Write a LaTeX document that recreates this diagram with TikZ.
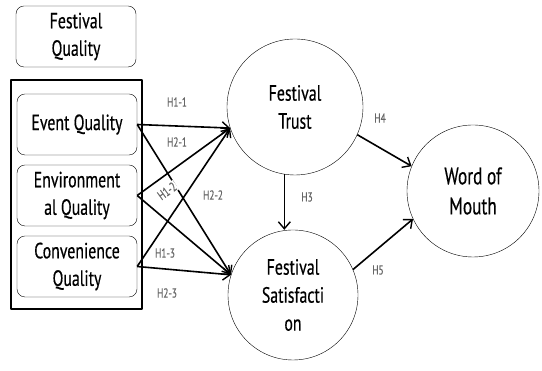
\documentclass[tikz,border=0pt]{standalone}
\usepackage{fontspec}
\setmainfont{PT Sans}[FakeStretch=0.72, FakeBold=0.4]
\usetikzlibrary{arrows.meta, calc}

\begin{document}
\begin{tikzpicture}[x=1pt, y=1pt, line join=round,
    qualbox/.style={draw, rounded corners=8pt, minimum width=120pt, minimum height=61pt,
      align=center, font=\fontsize{22}{27.5}\selectfont, inner sep=1pt},
    factor/.style={draw, circle, align=center, inner sep=0pt,
      font=\fontsize{22}{28}\selectfont},
    hyp/.style={black!60, font=\fontsize{13}{14}\selectfont, inner sep=1pt},
    path/.style={line width=1.6pt, -{Straight Barb[length=7pt, width=12pt, line width=1.4pt]}}]
    % ---------------------------------------------------
    % 전체 크기 고정
    % ---------------------------------------------------
    \useasboundingbox (0,0) rectangle (542,371);

    % 축제 품질 (왼쪽 상자들)
    \node[qualbox] (fq) at (76, 334.5) {Festival\\Quality};
    \draw[line width=1.2pt] (11, 62) rectangle (142, 291);
    \node[qualbox] (eq) at (77, 246.5) {Event Quality};
    \node[qualbox] (envq) at (77, 175.5) {Environment\\al Quality};
    \node[qualbox] (convq) at (77, 104.5) {Convenience\\Quality};

    % 원 (신뢰, 만족, 구전)
    \node[factor, minimum size=136pt] (trust) at (295, 264) {Festival\\Trust};
    \node[factor, minimum size=130pt] (sat) at (293, 76) {Festival\\Satisfacti\\on};
    \node[factor, minimum size=132pt, font=\fontsize{24}{30}\selectfont] (wom) at (473, 180) {Word of\\Mouth};

    % 경로 (H1, H2)
    \draw[path] (eq.east) -- (trust.198);
    \draw[path] (envq.east) -- (trust.198);
    \draw[path] (convq.east) -- (trust.198);
    \draw[path] (eq.east) -- (sat.162);
    \draw[path] (envq.east) -- (sat.162);
    \draw[path] (convq.east) -- (sat.162);

    % 경로 (H3, H4, H5)
    \draw[path] (trust.261) -- (trust.261 |- sat.north);
    \draw[path] (trust.336) -- (wom.158);
    \draw[path] (sat.23) -- (wom.205);

    % 가설 라벨
    \node[hyp] (h11) at (177, 269) {H1-1};
    \node[hyp] (h21) at (177, 229) {H2-1};
    \node[hyp, fill=white, rotate=36] (h12) at (167, 180) {H1-2};
    \node[hyp] (h22) at (213, 176) {H2-2};
    \node[hyp] (h13) at (165, 118) {H1-3};
    \node[hyp] (h23) at (167, 78) {H2-3};
    \node[hyp] (h3) at (307, 174) {H3};
    \node[hyp] (h4) at (380, 253) {H4};
    \node[hyp] (h5) at (378, 101) {H5};
\end{tikzpicture}
\end{document}
